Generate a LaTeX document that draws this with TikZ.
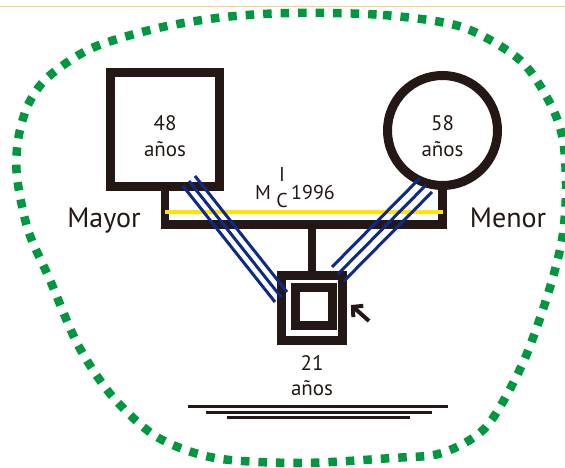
\documentclass[tikz,border=0pt]{standalone}
\usepackage{fontspec}
\setmainfont{PT Sans}
\usetikzlibrary{arrows.meta,calc}
\definecolor{tinta}{HTML}{231815}
\definecolor{azul}{HTML}{0D2A8A}
\definecolor{amarillo}{HTML}{FFE400}
\definecolor{verde}{HTML}{00983F}
\definecolor{borde}{HTML}{FCD37A}
\tikzset{
  persona/.style={draw=tinta, line width=9pt, inner sep=0pt},
  edad/.style={text=tinta, font=\fontsize{21}{21}\selectfont, anchor=base, inner sep=0pt},
  lado/.style={text=tinta, font=\fontsize{28}{28}\selectfont, anchor=base, inner sep=0pt},
  marca/.style={text=tinta, font=\fontsize{20}{20}\selectfont, anchor=base, inner sep=0pt},
  relacion/.style={azul, line width=3pt},
}
\begin{document}
\begin{tikzpicture}[x=1pt,y=-1pt]
  \useasboundingbox (0,0) rectangle (565,468);
  \coordinate (union) at (312,224.5);
  \coordinate (m1) at (165,212);
  \coordinate (m2) at (443,212);
\coordinate (izqA) at (183,186);
\coordinate (izqB) at (275,302);
\coordinate (derA) at (420,178);
\coordinate (derB) at (332,267);
\coordinate (cola) at (369,321);
\coordinate (punta) at (351,305);
  % top rule
  \draw[borde, line width=1pt] (0,7) -- (565,7);
  % green dotted boundary
  \draw[verde, line width=8.5pt, dash pattern=on 8.5pt off 9pt] plot[smooth cycle] coordinates {
    (292,13) (383,15) (462,27) (520,60) (550,103) (563,140) (566,190) (562,240)
    (547,297) (522,365) (486,427) (442,453) (392,458) (300,463) (215,458) (157,437)
    (112,396) (78,345) (50,280) (28,230) (17,177) (18,140) (28,105) (48,77)
    (92,48) (158,28) (225,17)};
  % parents
  \node[persona, rectangle, minimum width=109pt, minimum height=114pt] (mayor) at (165,129.5) {};
  \node[persona, circle, minimum size=110pt] (menor) at (442.5,130.5) {};
  % child
  \node[persona, rectangle, minimum width=61pt, minimum height=65pt] (hijo) at (312,308) {};
  \node[persona, rectangle, minimum width=37pt, minimum height=38pt] (hijoin) at (314,306.5) {};
  % marriage line
  \draw[tinta, line width=8.5pt] (mayor.south) -- (mayor.south |- union) -- (menor.south |- union) -- (menor.south);
  \draw[tinta, line width=8pt] (union) -- (hijo.north);
  \draw[amarillo, line width=3.5pt] (m1) -- (m2);
  % close relation lines
  \foreach \i in {0,1,2}{
    \draw[relacion] ($(izqA)+(6*\i,-5*\i)$) -- ($(izqB)+(6*\i,-5*\i)$);
    \draw[relacion] ($(derA)+(6*\i,7*\i)$) -- ($(derB)+(6*\i,7*\i)$);
  }
  % index person arrow
  \draw[tinta, line width=4pt, -{Straight Barb[length=7pt,width=15pt]}] (cola) -- (punta);
  % ground lines
  \foreach \a/\b/\y in {188/448/406.7, 206/432/412, 227/410/417.3}
    \draw[tinta, line width=3pt] (\a,\y) -- (\b,\y);
  % labels
  \node[edad] (e48) at (165,131) {48};
  \node[edad] (a48) at (165,157) {años};
  \node[edad] (e58) at (442.5,131) {58};
  \node[edad] (a58) at (442.5,157) {años};
  \node[edad] (e21) at (312,370) {21};
  \node[edad] (a21) at (312,395) {años};
  \node[lado] (tmayor) at (104,227) {Mayor};
  \node[lado] (tmenor) at (508,227) {Menor};
  \node[marca] (tm) at (263,199) {M};
  \node[marca] (ti) at (282,182) {I};
  \node[marca] (tc) at (282,207) {C};
  \node[marca] (tano) at (313,199) {1996};
\end{tikzpicture}
\end{document}
